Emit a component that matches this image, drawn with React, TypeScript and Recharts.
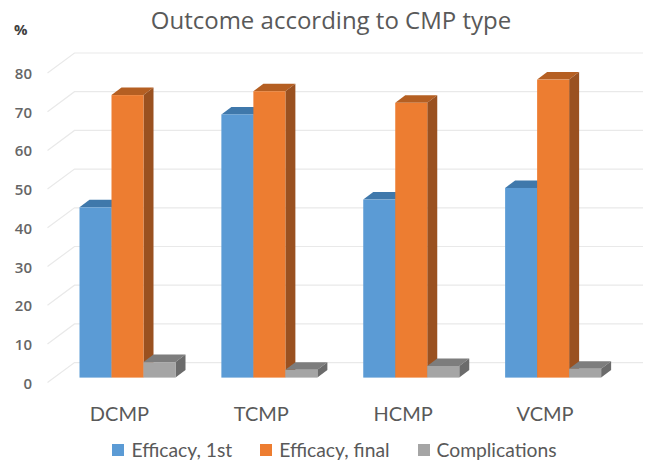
import { Bar, BarChart, CartesianGrid, Legend, XAxis, YAxis } from "recharts";

const categories = ["DCMP", "TCMP", "HCMP", "VCMP"];
const efficacyFirst = [44, 68, 46, 49];
const efficacyFinal = [73, 74, 71, 77];
const complications = [4, 2, 3, 2.3];
const yTicks = [0, 10, 20, 30, 40, 50, 60, 70, 80];

const data = categories.map((name, i) => ({
  name,
  first: efficacyFirst[i],
  final: efficacyFinal[i],
  complications: complications[i],
}));

const DEPTH_X = 10;
const DEPTH_Y = 7.5;
const TEXT = "#595959";

// front, top and side faces of an Excel-style 3D column
function Column3D({ x, y, width, height, fill, topFill, sideFill }: any) {
  const r = x + width;
  const b = y + height;
  return (
    <g>
      <polygon
        points={`${x},${y} ${x + DEPTH_X},${y - DEPTH_Y} ${r + DEPTH_X},${y - DEPTH_Y} ${r},${y}`}
        fill={topFill}
      />
      <polygon
        points={`${r},${y} ${r + DEPTH_X},${y - DEPTH_Y} ${r + DEPTH_X},${b - DEPTH_Y} ${r},${b}`}
        fill={sideFill}
      />
      <rect x={x} y={y} width={width} height={height} fill={fill} />
    </g>
  );
}

function WallLine({ x1, y1, x2 }: any) {
  return (
    <polyline
      points={`${x1 - 9},${y1 + 5} ${x1 + 18},${y1 - 15} ${x2 + 19},${y1 - 15}`}
      fill="none"
      stroke="#e9e9e9"
      strokeWidth={1.2}
    />
  );
}

function YTick({ y, payload }: any) {
  return (
    <text
      x={32}
      y={y + 11}
      textAnchor="end"
      fontFamily="Open Sans"
      fontWeight={600}
      fontSize={15}
      fill="#666666"
    >
      {payload.value}
    </text>
  );
}

function XTick({ x, y, payload }: any) {
  return (
    <text x={x - 8} y={y + 35} textAnchor="middle" fontFamily="Lato" fontSize={20} fill={TEXT}>
      {payload.value}
    </text>
  );
}

function LegendRow({ payload }: any) {
  return (
    <div style={{ display: "flex", justifyContent: "center", gap: 28, fontFamily: "Lato", fontSize: 19.3, lineHeight: "18px", color: TEXT }}>
      {(payload ?? []).map((item: any) => (
        <span key={item.value} style={{ display: "flex", alignItems: "center", gap: 7 }}>
          <span style={{ width: 12, height: 12, background: item.color, display: "inline-block" }} />
          {item.value}
        </span>
      ))}
    </div>
  );
}

export default function App() {
  return (
    <div style={{ position: "absolute", left: 0, top: 0, width: 657, height: 461, background: "#fff" }}>
      <div
        style={{
          position: "absolute",
          left: 0,
          width: 662,
          top: 3,
          textAlign: "center",
          fontFamily: "Open Sans",
          fontSize: 24,
          color: TEXT,
        }}
      >
        Outcome according to CMP type
      </div>
      <div
        style={{
          position: "absolute",
          left: 14,
          top: 19,
          fontFamily: "Open Sans",
          fontWeight: 700,
          fontSize: 15,
          color: "#404040",
        }}
      >
        %
      </div>
      <BarChart
        width={657}
        height={461}
        data={data}
        barGap={0}
        barCategoryGap={23}
        margin={{ top: 68, right: 33, bottom: 15.4, left: 0 }}
      >
        <CartesianGrid horizontal={(p: any) => <WallLine key={p.key ?? p.y1} {...p} />} vertical={false} />
        <XAxis dataKey="name" height={50} axisLine={false} tickLine={false} tick={<XTick />} />
        <YAxis
          width={56.5}
          domain={[0, 80]}
          ticks={yTicks}
          axisLine={false}
          tickLine={false}
          tick={<YTick />}
        />
        <Legend
          content={<LegendRow />}
          itemSorter={null}
          wrapperStyle={{ position: "absolute", left: 0, width: 669, top: 440.5 }}
        />
        <Bar
          dataKey="first"
          name="Efficacy, 1st"
          fill="#5b9bd5"
          isAnimationActive={false}
          shape={<Column3D topFill="#3f78ab" sideFill="#3a6d9c" />}
        />
        <Bar
          dataKey="final"
          name="Efficacy, final"
          fill="#ed7d31"
          isAnimationActive={false}
          shape={<Column3D topFill="#b55f22" sideFill="#9a5120" />}
        />
        <Bar
          dataKey="complications"
          name="Complications"
          fill="#a5a5a5"
          isAnimationActive={false}
          shape={<Column3D topFill="#7d7d7d" sideFill="#6b6b6b" />}
        />
      </BarChart>
    </div>
  );
}
